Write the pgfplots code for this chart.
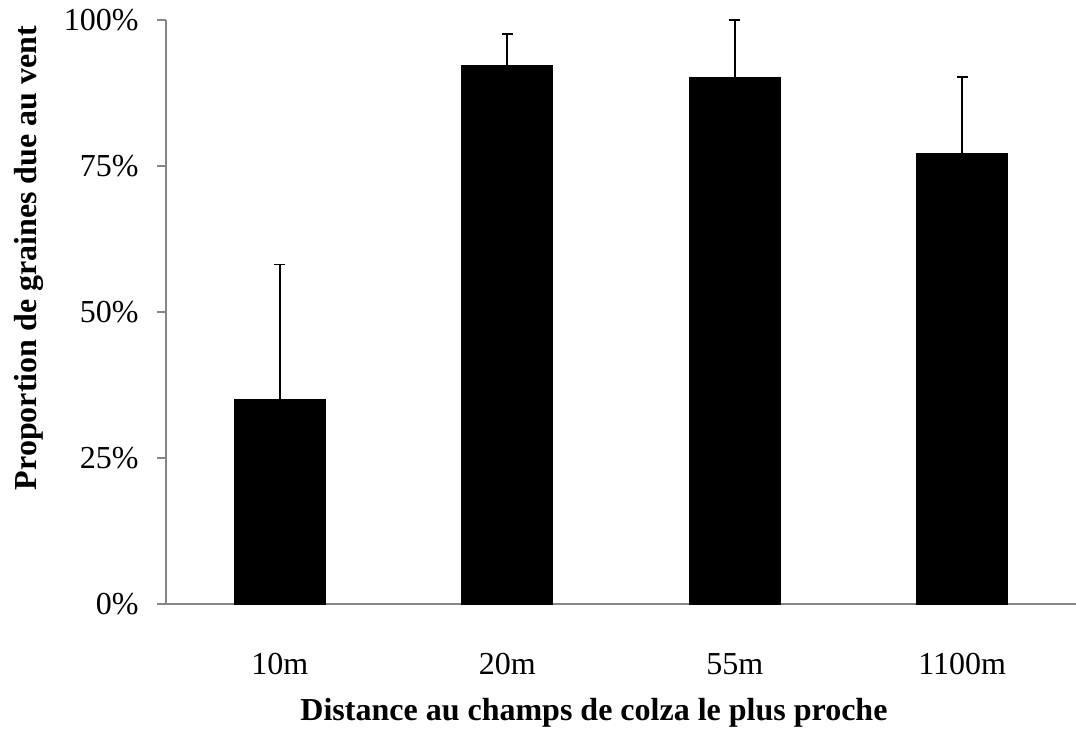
\documentclass[border=0pt]{standalone}
\usepackage{fontspec}
\setmainfont{Liberation Serif}
\usepackage{pgfplots}
\pgfplotsset{compat=1.18}
\usepackage{pgfplotstable}
\definecolor{axisgray}{RGB}{134,134,134}
\pgfplotstableread{
x y e
0 35.05 23.05
1 92.2 5.4
2 90.1 9.9
3 77.2 13.0
}\datatable
\begin{document}
\begin{tikzpicture}
\useasboundingbox (-83pt,-62.5pt) rectangle (455pt,302pt);
\begin{axis}[
  at={(0pt,0pt)}, anchor=south west,
  scale only axis,
  width=455pt, height=292pt,
  xmin=-0.5, xmax=3.5,
  ymin=0, ymax=100,
  axis lines=left,
  axis line style={-, draw=axisgray, line width=0.75pt},
  ybar,
  bar width=45.3pt,
  font=\fontsize{16}{19}\selectfont,
  xtick={0,1,2,3},
  xticklabels={10m,20m,55m,1100m},
  xtick style={draw=none},
  extra x ticks={-0.5,0.5,1.5,2.5,3.5},
  extra x tick labels={},
  extra x tick style={major tick length=4.5pt, tick align=outside, tick style={draw=axisgray, line width=0.75pt}},
  ytick={0,25,50,75,100},
  yticklabels={0\%,25\%,50\%,75\%,100\%},
  ytick style={draw=axisgray, line width=0.75pt},
  major tick length=4.5pt,
  tick align=outside,
  xticklabel style={anchor=base, inner sep=0pt, yshift=-30.5pt},
  yticklabel style={anchor=east, inner sep=0pt, xshift=-9pt},
  xlabel={\bfseries Distance au champs de colza le plus proche},
  ylabel={\bfseries Proportion de graines due au vent},
  xlabel style={at={(axis description cs:0.4703,0)}, anchor=base, yshift=-58pt, inner sep=0pt},
  ylabel style={at={(axis description cs:-0.1418,0.5925)}, anchor=base, inner sep=0pt},
  clip=false,
]
\addplot[ybar, fill=black, draw=black, line width=0.5pt,
  error bars/.cd, y dir=plus, y explicit,
  error bar style={line width=0.8pt, black},
  error mark options={rotate=90, mark size=2.75pt, line width=0.8pt, black}]
  table[x=x, y=y, y error=e]{\datatable};
\end{axis}
\end{tikzpicture}
\end{document}
